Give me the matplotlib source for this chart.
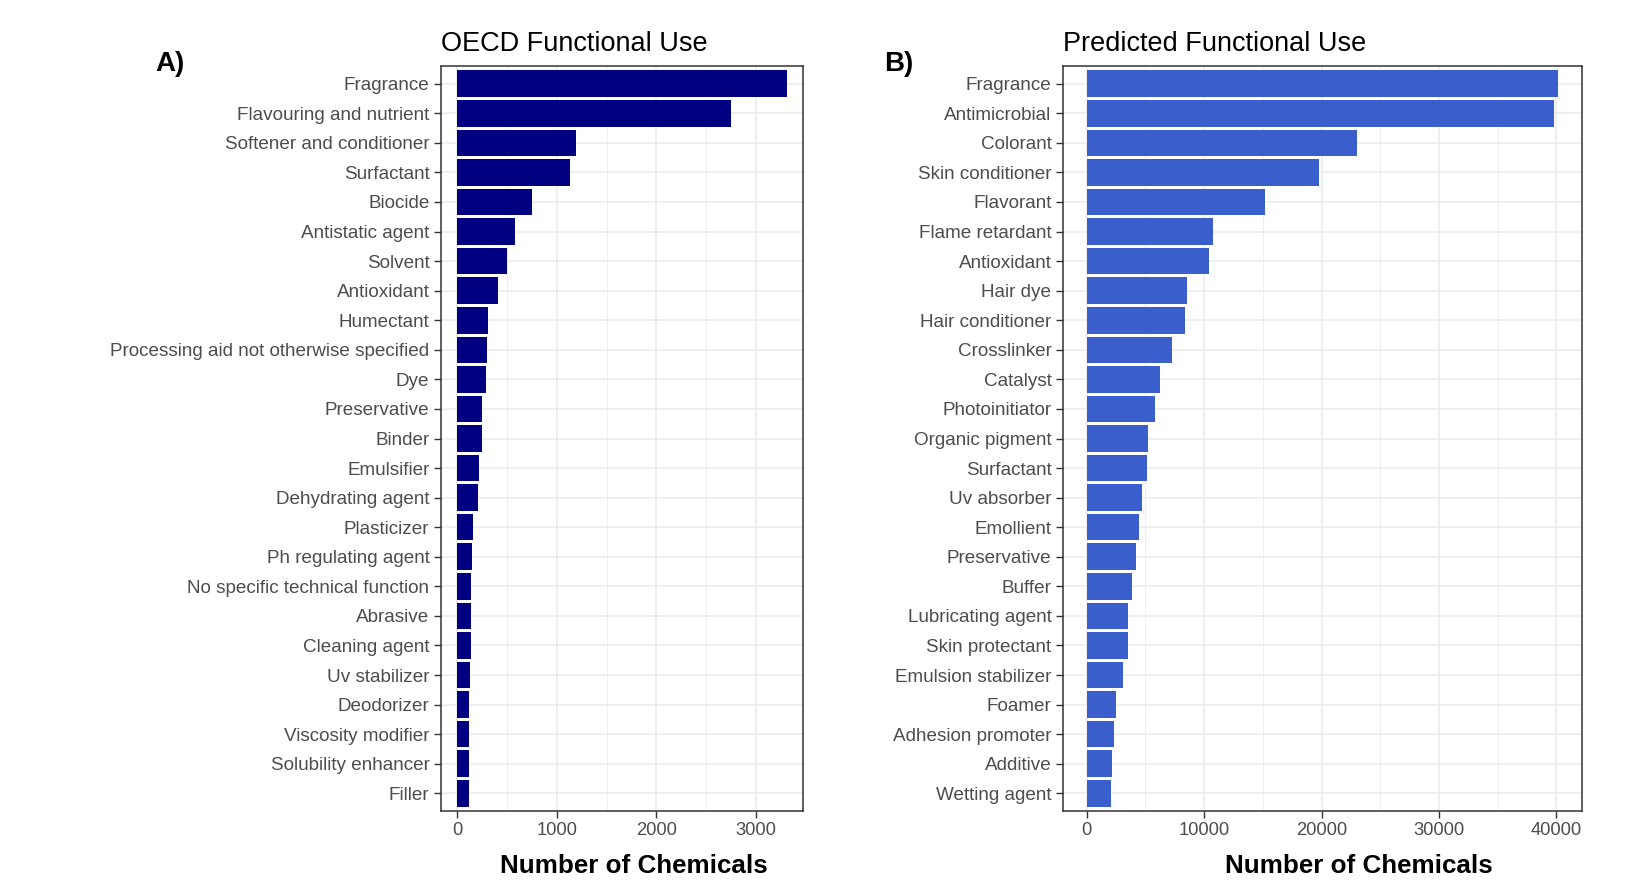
"""
Functional use counts: OECD reported categories vs. model predictions.
Two horizontal bar panels side by side, saved to out.png.
"""

import matplotlib
matplotlib.use('Agg')
import matplotlib.pyplot as plt
import numpy as np

plt.rcParams.update({
    'font.family': ['Liberation Sans', 'DejaVu Sans'],
    'axes.edgecolor': '#333333',
    'axes.linewidth': 1.1,
    'xtick.color': '#333333',
    'ytick.color': '#333333',
    'xtick.labelcolor': '#4D4D4D',
    'ytick.labelcolor': '#4D4D4D',
    'xtick.labelsize': 13.2,
    'ytick.labelsize': 13.6,
    'xtick.major.size': 4.7,
    'ytick.major.size': 4.7,
    'xtick.major.width': 1.0,
    'ytick.major.width': 1.0,
    'xtick.major.pad': 3.0,
    'ytick.major.pad': 3.6,
})

# OECD functional use categories (largest first)
oecd_labels = [
    "Fragrance", "Flavouring and nutrient", "Softener and conditioner",
    "Surfactant", "Biocide", "Antistatic agent", "Solvent", "Antioxidant",
    "Humectant", "Processing aid not otherwise specified", "Dye",
    "Preservative", "Binder", "Emulsifier", "Dehydrating agent",
    "Plasticizer", "Ph regulating agent", "No specific technical function",
    "Abrasive", "Cleaning agent", "Uv stabilizer", "Deodorizer",
    "Viscosity modifier", "Solubility enhancer", "Filler",
]
oecd_counts = [
    3307, 2747, 1187, 1127, 747, 577, 497, 407, 307, 297, 287, 247, 247,
    217, 207, 157, 147, 137, 137, 137, 127, 117, 117, 117, 117,
]

# Predicted functional use categories (largest first)
pred_labels = [
    "Fragrance", "Antimicrobial", "Colorant", "Skin conditioner",
    "Flavorant", "Flame retardant", "Antioxidant", "Hair dye",
    "Hair conditioner", "Crosslinker", "Catalyst", "Photoinitiator",
    "Organic pigment", "Surfactant", "Uv absorber", "Emollient",
    "Preservative", "Buffer", "Lubricating agent", "Skin protectant",
    "Emulsion stabilizer", "Foamer", "Adhesion promoter", "Additive",
    "Wetting agent",
]
pred_counts = [
    40170, 39830, 23015, 19790, 15200, 10785, 10445, 8577, 8407, 7304,
    6284, 5860, 5265, 5180, 4756, 4500, 4246, 3907, 3567, 3567, 3142,
    2463, 2293, 2123, 2038,
]

W, H = 1647, 880
fig = plt.figure(figsize=(W / 100, H / 100), dpi=100)


def px_axes(left, top, right, bottom):
    return fig.add_axes([left / W, 1 - bottom / H, (right - left) / W,
                         (bottom - top) / H])


def draw_panel(ax, labels, counts, color, xmax, major, minor):
    n = len(labels)
    pos = np.arange(n)[::-1]
    ax.set_axisbelow(True)
    ax.barh(pos, counts, height=0.9, color=color, linewidth=0)
    ax.set_yticks(pos)
    ax.set_yticklabels(labels)
    ax.set_ylim(-0.6, n - 0.4)
    ax.set_xlim(-0.05 * xmax, 1.05 * xmax)
    ax.set_xticks(major)
    ax.set_xticks(minor, minor=True)
    ax.tick_params(axis='x', which='minor', length=0)
    ax.grid(True, which='major', color='#EBEBEB', linewidth=1.1)
    ax.grid(True, which='minor', axis='x', color='#EBEBEB', linewidth=0.6)


ax1 = px_axes(441, 66, 803, 811)
draw_panel(ax1, oecd_labels, oecd_counts, '#000080', max(oecd_counts),
           [0, 1000, 2000, 3000], [500, 1500, 2500])

ax2 = px_axes(1063, 66, 1582, 811)
draw_panel(ax2, pred_labels, pred_counts, '#3A5FCD', max(pred_counts),
           [0, 10000, 20000, 30000, 40000], [5000, 15000, 25000, 35000])

# panel titles, tags and axis titles
fig.text(441 / W, 1 - 51 / H, "OECD Functional Use", fontsize=19.5,
         ha='left', va='baseline', color='black')
fig.text(1063 / W, 1 - 51 / H, "Predicted Functional Use", fontsize=19.5,
         ha='left', va='baseline', color='black')
fig.text(155 / W, 1 - 71 / H, "A)", fontsize=20, fontweight='bold',
         ha='left', va='baseline')
fig.text(884 / W, 1 - 71 / H, "B)", fontsize=20, fontweight='bold',
         ha='left', va='baseline')
fig.text(634 / W, 1 - 873 / H, "Number of Chemicals", fontsize=18.7,
         fontweight='bold', ha='center', va='baseline')
fig.text(1359 / W, 1 - 873 / H, "Number of Chemicals", fontsize=18.7,
         fontweight='bold', ha='center', va='baseline')

fig.savefig('out.png', dpi=100, facecolor='white')
